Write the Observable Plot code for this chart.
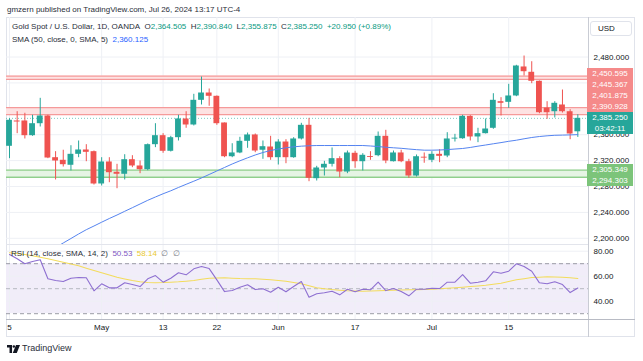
<!DOCTYPE html>
<html><head><meta charset="utf-8">
<script src="https://cdn.jsdelivr.net/npm/d3@7"></script>
<script src="https://cdn.jsdelivr.net/npm/@observablehq/plot@0.6"></script>
<style>
body{margin:0;background:#fff;font-family:"Liberation Sans",Arial,sans-serif;color:#131722;}
#wrap{position:relative;width:643px;height:361px;overflow:hidden;background:#fff;}
.abs{position:absolute;white-space:nowrap;line-height:1;}
.plot{position:absolute;}
</style></head><body><div id="wrap"></div>
<script>
// ---- data ----
const open = [2342.1,2381.2,2381.2,2358.5,2377.0,2388.9,2324.5,2320.5,2312.8,2329.7,2336.4,2333.8,2283.9,2317.9,2302.0,2298.9,2321.4,2311.7,2306.0,2344.6,2358.5,2334.4,2355.4,2384.3,2375.0,2413.1,2424.4,2419.3,2378.1,2326.0,2331.8,2349.8,2359.6,2336.0,2341.0,2324.5,2348.7,2324.5,2353.4,2374.5,2292.1,2308.6,2314.3,2323.0,2302.4,2331.3,2318.3,2326.0,2327.6,2357.5,2318.3,2331.8,2318.3,2296.2,2325.1,2320.5,2329.7,2327.1,2353.4,2353.8,2388.4,2356.5,2361.6,2369.9,2411.0,2410.0,2419.8,2464.6,2456.4,2442.5,2401.2,2395.5,2405.9,2395.5,2364.505];
const high = [2384.7,2395.5,2393.1,2390.0,2416.2,2390.0,2333.8,2336.0,2343.0,2350.3,2344.6,2334.8,2324.5,2324.5,2314.3,2329.1,2327.6,2319.4,2345.7,2377.0,2361.6,2357.5,2390.0,2395.5,2422.4,2449.1,2430.6,2419.8,2378.1,2346.1,2356.0,2362.6,2361.1,2350.3,2357.5,2352.3,2352.3,2355.4,2377.6,2385.3,2311.2,2318.9,2339.5,2326.0,2334.8,2334.4,2330.7,2333.8,2364.2,2366.8,2334.8,2336.0,2322.0,2328.7,2331.8,2333.8,2336.9,2363.1,2360.6,2390.0,2389.4,2369.9,2384.3,2423.3,2417.2,2437.8,2467.2,2481.5,2472.7,2442.9,2411.0,2411.0,2429.0,2398.6,2390.84];
const low = [2323.0,2361.6,2353.4,2357.5,2371.9,2323.0,2290.1,2310.1,2304.0,2324.5,2318.3,2282.3,2280.8,2285.9,2276.6,2290.1,2309.1,2299.8,2304.4,2340.0,2331.3,2333.3,2350.3,2369.9,2373.5,2405.9,2403.9,2374.5,2324.5,2324.5,2330.7,2339.0,2332.2,2322.0,2320.5,2313.2,2315.2,2323.6,2351.8,2287.4,2288.5,2296.2,2310.1,2293.6,2299.8,2308.1,2304.0,2320.5,2326.0,2315.2,2317.9,2316.8,2292.7,2294.7,2315.9,2316.8,2316.8,2324.5,2348.7,2352.9,2350.3,2347.7,2361.1,2368.4,2388.9,2400.8,2418.7,2450.7,2438.8,2392.4,2383.8,2385.8,2393.5,2352.3,2355.875];
const close = [2382.3,2379.6,2358.5,2377.0,2388.9,2324.0,2319.4,2313.7,2329.7,2336.4,2332.8,2283.9,2317.9,2301.3,2298.9,2321.4,2311.7,2306.0,2344.6,2358.5,2334.4,2355.4,2384.3,2375.0,2413.1,2424.4,2419.3,2377.0,2326.0,2331.8,2349.8,2359.6,2334.8,2341.5,2324.5,2348.7,2324.5,2353.4,2374.5,2292.7,2308.6,2314.3,2323.0,2302.4,2331.8,2318.3,2328.2,2325.1,2357.5,2319.4,2331.8,2318.3,2296.2,2326.0,2324.0,2329.7,2326.6,2353.4,2354.5,2388.4,2356.5,2361.6,2368.8,2413.1,2408.5,2419.8,2466.1,2457.3,2442.5,2394.0,2394.0,2408.5,2395.5,2361.1,2385.25];
const sma50 = [null,null,null,null,null,null,2185.8,2192.8,2199.7,2206.7,2213.3,2219.0,2224.9,2230.6,2236.0,2241.7,2247.3,2253.0,2258.7,2263.8,2268.8,2273.4,2278.5,2283.4,2288.2,2293.2,2298.6,2304.0,2309.4,2314.8,2319.7,2324.3,2328.7,2332.5,2335.6,2337.9,2339.8,2341.3,2342.3,2342.9,2343.3,2343.3,2343.3,2343.3,2343.3,2343.3,2343.3,2342.6,2341.7,2340.6,2339.8,2339.0,2337.9,2336.9,2336.1,2336.1,2336.4,2337.0,2337.9,2338.7,2340.3,2342.3,2344.1,2346.0,2347.8,2349.8,2351.5,2353.7,2355.7,2357.2,2358.3,2359.1,2359.4,2359.7,2360.125];
const rsi = [77.3,73.9,69.9,71.7,73.1,57.9,56.5,55.7,58.4,58.9,58.7,48.3,53.9,50.7,50.7,54.7,53.3,51.7,57.9,60.5,55.2,58.4,62.7,61.1,65.9,67.7,66.1,57.1,47.7,48.5,51.2,53.1,49.3,49.9,47.2,51.2,47.5,51.7,55.7,43.2,45.9,46.7,48.0,45.1,49.6,47.5,49.6,49.1,55.2,48.5,50.1,47.7,44.3,49.6,49.6,50.4,50.1,55.2,55.2,61.3,54.4,55.2,56.3,63.5,62.4,64.0,69.9,67.7,64.0,54.7,53.9,55.5,53.3,46.9,50.53];
const rsiSma = [78.7,78.2,77.3,76.3,75.2,73.9,72.6,71.2,69.8,68.3,66.4,64.5,62.7,60.9,59.2,57.8,56.5,55.6,54.9,54.8,54.9,55.2,55.5,56.0,56.5,57.5,58.4,58.6,58.7,58.4,58.1,58.0,57.9,57.5,57.1,56.6,56.0,55.0,53.9,52.3,50.7,50.0,49.3,48.8,48.3,48.1,48.0,48.1,48.3,48.5,48.8,49.0,49.1,49.2,49.3,49.6,49.9,50.3,50.7,51.2,51.7,52.2,52.8,53.6,54.4,55.8,57.1,58.0,58.9,59.2,59.5,59.4,59.2,58.7,58.14];
const zoneHigh = [2450.595, 2401.875, 2305.349];
const zoneLow  = [2445.367, 2390.928, 2294.303];
const zoneKind = ["res", "res", "sup"];
const priceTicks = [2200, 2240, 2280, 2320, 2360, 2400, 2440, 2480];
const rsiTicks = [80, 60, 40];
const rsiLevels = [70, 50, 30];
const tickIdx = [1, 13, 21, 28, 36, 46, 56, 66];
const tickLabels = ["5", "May", "13", "22", "Jun", "17", "Jul", "15"];
const countdown = "03:42:11";

// ---- styling ----
const UP = "#26a69a", DOWN = "#ef5350";
const RES_LINE = "#f59a9a", RES_FILL = "#fde2e2", RES_BOX = "#f58a8a";
const SUP_LINE = "#8fcf8c", SUP_FILL = "#e5f4e4", SUP_BOX = "#7cc47a";
const GRID = "#eef0f5";
const FONT = "'Liberation Sans', Arial, sans-serif";

const wrap = document.getElementById("wrap");
function addDiv(html, css) { const d = document.createElement("div"); d.className = "abs"; d.innerHTML = html; Object.assign(d.style, css); wrap.appendChild(d); return d; }

const X0 = 6, MAIN_TOP = 17, W = 631, MAIN_H = 228, RIGHT = 49;
const xDomain = [0.609, 76.39];
const yDomain = [2188.9, 2541.0];
const candles = open.map((o, k) => {
  const c = close[k];
  const mid = (o + c) / 2, half = Math.max(Math.abs(o - c) / 2, 0.7);
  return {i: k + 1, o, c, h: high[k], l: low[k], b1: mid - half, b2: mid + half, col: c >= o ? UP : DOWN, sma: sma50[k]};
});
const zones = zoneHigh.map((h, k) => ({hi: h, lo: zoneLow[k], kind: zoneKind[k]}));
const fmtP = d3.format(",.3f");

// label boxes on the price axis, placed through the y scale
const ysc = Plot.scale({y: {domain: yDomain, range: [MAIN_H, 0]}});
const yPage = v => ysc.apply(v) + MAIN_TOP;
const BH = 11;
const lastC = close[close.length - 1];
const groups = zones.map(z => ({lines: [fmtP(z.hi), fmtP(z.lo)], top: yPage(z.hi) - BH / 2, color: z.kind === "res" ? RES_BOX : SUP_BOX}));
groups.push({lines: [fmtP(lastC), countdown], top: yPage(lastC) - BH / 2, color: UP});
groups.sort((a, b) => a.top - b.top);
for (let k = groups.length - 2; k >= 0; k--) {
  if (groups[k].top + 2 * BH > groups[k + 1].top) groups[k].top = groups[k + 1].top - 2 * BH;
}
const shownTicks = priceTicks.filter(t => {
  const c = yPage(t);
  return !groups.some(g => c >= g.top && c <= g.top + 2 * BH - 2);
});

// frame
addDiv("", {left: X0 + "px", top: MAIN_TOP + "px", width: "629px", height: "320px", border: "1px solid #e0e3eb", boxSizing: "border-box"});

const main = Plot.plot({
  width: W, height: MAIN_H,
  marginLeft: 0, marginRight: RIGHT, marginTop: 0, marginBottom: 0,
  x: {domain: xDomain, axis: null},
  y: {domain: yDomain, axis: null},
  style: {fontSize: "8px", fontFamily: FONT, color: "#131722", background: "transparent", overflow: "visible"},
  marks: [
    Plot.ruleY(priceTicks, {stroke: GRID}),
    Plot.ruleX(tickIdx, {stroke: GRID}),
    Plot.rect(zones, {x1: xDomain[0], x2: xDomain[1], y1: "lo", y2: "hi", fill: d => d.kind === "res" ? RES_FILL : SUP_FILL}),
    Plot.ruleY(zones, {y: "hi", stroke: d => d.kind === "res" ? RES_LINE : SUP_LINE, strokeWidth: 1.3}),
    Plot.ruleY(zones, {y: "lo", stroke: d => d.kind === "res" ? RES_LINE : SUP_LINE, strokeWidth: 1.3}),
    Plot.ruleY([lastC], {stroke: UP, strokeOpacity: 0.6, strokeDasharray: "1,2"}),
    Plot.ruleX(candles, {x: "i", y1: "l", y2: "h", stroke: "col", strokeWidth: 1}),
    Plot.rect(candles, {x1: d => d.i - 0.38, x2: d => d.i + 0.38, y1: "b1", y2: "b2", fill: "col"}),
    Plot.line(candles.filter(d => d.sma != null), {x: "i", y: "sma", stroke: "#5584f0", strokeWidth: 1, clip: true}),
    Plot.axisY(shownTicks, {anchor: "right", tickSize: 0, tickPadding: 5, tickFormat: fmtP, label: null})
  ]
});
main.classList.add("plot");
Object.assign(main.style, {left: X0 + "px", top: MAIN_TOP + "px"});
wrap.appendChild(main);

const RSI_TOP = 245;
const rsiData = rsi.map((r, k) => ({i: k + 1, r, s: rsiSma[k]}));
const rsiPlot = Plot.plot({
  width: W, height: 92,
  marginLeft: 0, marginRight: RIGHT, marginTop: 0, marginBottom: 18,
  x: {domain: xDomain},
  y: {domain: [25.36, 84.56], axis: null},
  style: {fontSize: "8px", fontFamily: FONT, color: "#131722", background: "transparent", overflow: "visible"},
  marks: [
    Plot.rect([{}], {x1: xDomain[0], x2: xDomain[1], y1: rsiLevels[2], y2: rsiLevels[0], fill: "#f1edf9"}),
    Plot.ruleY(rsiTicks, {stroke: GRID}),
    Plot.ruleX(tickIdx, {stroke: GRID}),
    Plot.ruleY([rsiLevels[0], rsiLevels[2]], {stroke: "#9a9ca6", strokeDasharray: "4,3"}),
    Plot.ruleY([rsiLevels[1]], {stroke: "#b6b8c0", strokeDasharray: "4,3"}),
    Plot.line(rsiData, {x: "i", y: "s", stroke: "#f3dc5c", strokeWidth: 1.1}),
    Plot.line(rsiData, {x: "i", y: "r", stroke: "#8e6fd1", strokeWidth: 1.1}),
    Plot.axisY(rsiTicks, {anchor: "right", tickSize: 0, tickPadding: 5, tickFormat: d3.format(".2f"), label: null}),
    Plot.axisX(tickIdx, {anchor: "bottom", tickSize: 0, tickPadding: 5, tickFormat: d => tickLabels[tickIdx.indexOf(d)], label: null})
  ]
});
rsiPlot.classList.add("plot");
Object.assign(rsiPlot.style, {left: X0 + "px", top: RSI_TOP + "px"});
wrap.appendChild(rsiPlot);

// separators
addDiv("", {left: (X0 + W - RIGHT) + "px", top: MAIN_TOP + "px", width: "1px", height: "320px", background: "#c9ccd4"});
addDiv("", {left: X0 + "px", top: (RSI_TOP - 1) + "px", width: (W - RIGHT) + "px", height: "1px", background: "#e3e5ec"});
addDiv("", {left: X0 + "px", top: (RSI_TOP + 74) + "px", width: "629px", height: "1px", background: "#b8bbc4"});

groups.forEach(g => {
  addDiv(g.lines.map(t => `<div style="height:${BH}px;line-height:${BH}px">${t}</div>`).join(""),
    {left: "587px", top: g.top + "px", width: "46px", background: g.color, color: "#fff", fontSize: "8px", textAlign: "center"});
});

// USD button
addDiv("USD", {left: "590px", top: "21px", width: "42px", height: "15px", border: "1px solid #e0e3eb", borderRadius: "3px", boxSizing: "border-box", fontSize: "8px", lineHeight: "13px", paddingLeft: "7px", background: "#fff"});

// texts
const L = close.length - 1;
addDiv("gmzern published on TradingView.com, Jul 26, 2024 13:17 UTC-4", {left: "7px", top: "5.5px", fontSize: "8px", color: "#2a2e39"});
const teal = s => `<span style="color:#089981">${s}</span>`;
addDiv(`Gold Spot / U.S. Dollar, 1D, OANDA&nbsp; O${teal(fmtP(open[L]))}&nbsp; H${teal(fmtP(high[L]))}&nbsp; L${teal(fmtP(low[L]))}&nbsp; C${teal(fmtP(close[L]))}&nbsp; ${teal("+20.950 (+0.89%)")}`,
  {left: "12px", top: "22.7px", fontSize: "8px", color: "#2a2e39"});
addDiv(`SMA (50, close, 0, SMA, 5)&nbsp; <span style="color:#2962ff">${fmtP(sma50[L])}</span>`,
  {left: "12px", top: "35.7px", fontSize: "8px", color: "#2a2e39"});
addDiv(`RSI (14, close, SMA, 14, 2)&nbsp; <span style="color:#7e57c2">${d3.format(".2f")(rsi[L])}</span>&nbsp; <span style="color:#e9c930">${d3.format(".2f")(rsiSma[L])}</span>&nbsp; <span style="color:#787b86">∅&nbsp; ∅</span>`,
  {left: "11px", top: "250.3px", fontSize: "8px", color: "#2a2e39"});

// TradingView logo
addDiv(`<svg style="display:block" width="13" height="8" viewBox="0 0 36 22"><path d="M0 0h14v22H7V7H0z" fill="#131722"/><circle cx="19" cy="4" r="3.5" fill="#131722"/><path d="M25 0h11l-9 22h-11z" fill="#131722"/></svg>`, {left: "7px", top: "344.5px"});
addDiv("TradingView", {left: "22px", top: "344px", fontSize: "9px", color: "#2a2e39"});
</script></body></html>
